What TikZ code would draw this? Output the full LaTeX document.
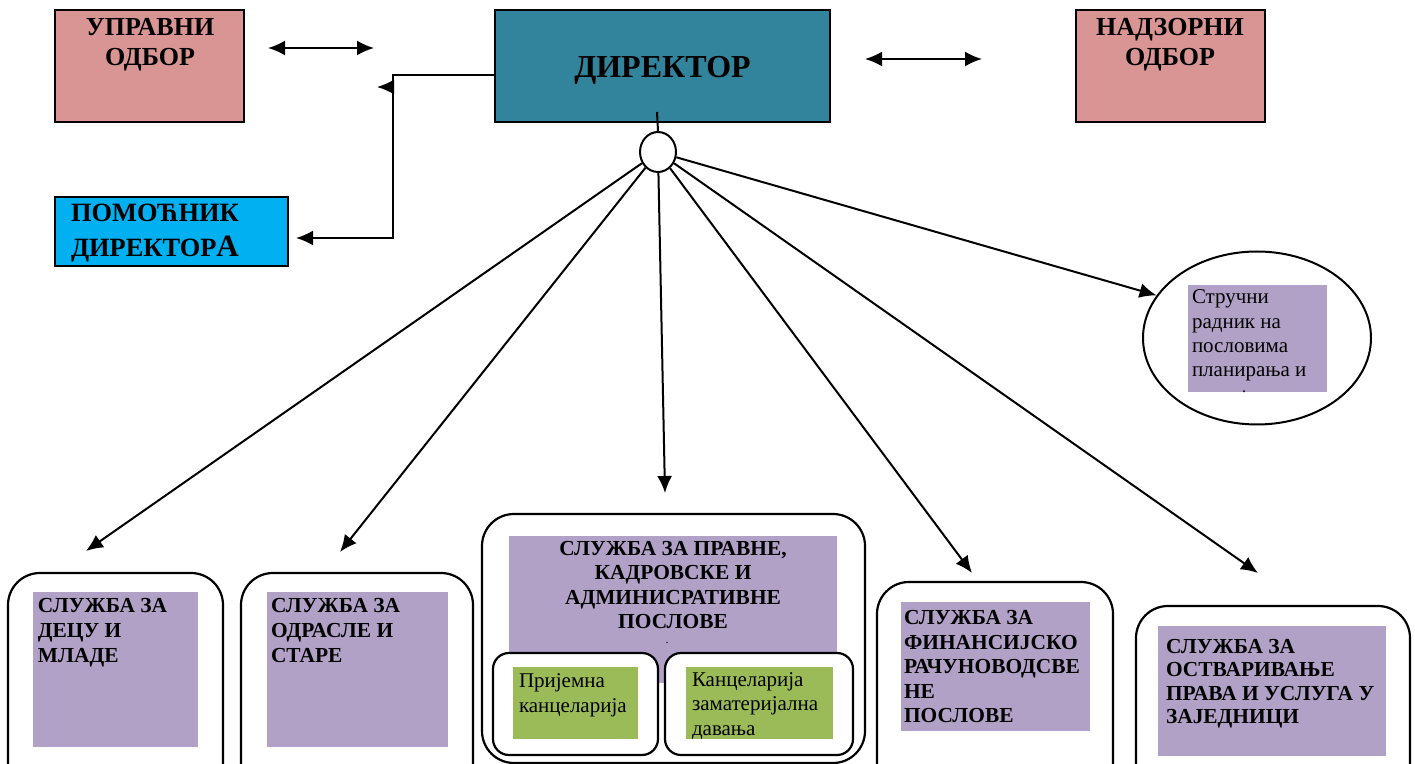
\documentclass[tikz,border=0pt]{standalone}
\usepackage{fontspec}
\setmainfont{Liberation Serif}
\usetikzlibrary{arrows.meta,shapes.geometric}
\definecolor{rosa}{HTML}{D99594}
\definecolor{petrol}{HTML}{31849B}
\definecolor{himmel}{HTML}{00B0F0}
\definecolor{lila}{HTML}{B2A1C7}
\definecolor{gruen}{HTML}{9BBB59}
\def\sz#1#2{\fontsize{#1}{#2}\selectfont}

\begin{document}
\begin{tikzpicture}[x=0.5pt,y=-0.5pt,>={Latex[length=8.5pt,width=7.5pt]},line width=1pt,
	kasten/.style={draw,line width=1.3pt,inner sep=0pt},
	dienst/.style={draw,fill=white,line width=1.1pt,rounded corners=16pt,inner sep=0pt},
	klein/.style={draw,fill=white,line width=1.1pt,rounded corners=8pt,inner sep=0pt},
	feld/.style={inner sep=0pt},
	fett/.style={font=\bfseries\sz{10.7}{12.3},align=left,inner sep=0pt,anchor=base west},
	normal/.style={font=\sz{10.5}{12.2},align=left,inner sep=0pt,anchor=base west}]
\useasboundingbox (0,0) rectangle (1415,764);
\clip (0,0) rectangle (1415,764);
% obere Reihe (Textanker = Grundlinie der letzten Zeile)
\node[kasten,fill=rosa,minimum width=94.5pt,minimum height=56pt] (uo) at (149.5,66) {};
\node[kasten,fill=petrol,minimum width=167.5pt,minimum height=56pt] (dir) at (662.5,66) {};
\node[kasten,fill=rosa,minimum width=94.5pt,minimum height=56pt] (no) at (1170.5,66) {};
\node[kasten,fill=himmel,minimum width=116.5pt,minimum height=34.5pt] (pd) at (171.5,231.5) {};
\node[font=\bfseries\sz{13}{15},align=center,inner sep=0pt,anchor=base] (uot) at (150,66) {УПРАВНИ\\ОДБОР};
\node[font=\bfseries\sz{13}{15},align=center,inner sep=0pt,anchor=base] (not) at (1170,66) {НАДЗОРНИ\\ОДБОР};
\node[font=\bfseries\sz{16}{16},inner sep=0pt,anchor=base] (dirt) at (662.5,78) {ДИРЕКТОР};
\node[font=\bfseries\sz{13.2}{17.5},align=left,inner sep=0pt,anchor=base west] (pdt) at (70,257)
	{ПОМОЋНИК\\ДИРЕКТОР{\sz{15.5}{17.5}А}};
% Knoten unter dem Direktor
\node[draw,ellipse,minimum width=18pt,minimum height=20pt,inner sep=0pt] (hub) at (658,152) {};
\coordinate (stiel) at (657,112);
\draw (stiel) -- (hub.north);
% Stručni radnik
\node[draw,ellipse,minimum width=114pt,minimum height=86.5pt] (sr) at (1257,338) {};
\node[feld,fill=lila,minimum width=69.5pt,minimum height=53.5pt] (srf) at (1257.5,338.5) {};
\node[normal] (srt) at (1191,377) {Стручни\\радник на\\пословима\\планирања и};
\node[font=\sz{8}{8},inner sep=0pt,anchor=base] (srp) at (1244,393) {.};
% Službe
\node[dienst,minimum width=107.5pt,minimum height=113.5pt] (s1) at (115.5,686.5) {};
\node[feld,fill=lila,minimum width=82.5pt,minimum height=77.5pt] (s1f) at (115.5,669.5) {};
\node[fett] (s1t) at (37,662) {СЛУЖБА ЗА\\ДЕЦУ И\\МЛАДЕ};
\node[dienst,minimum width=116pt,minimum height=113.5pt] (s2) at (357,686.5) {};
\node[feld,fill=lila,minimum width=90.5pt,minimum height=77.5pt] (s2f) at (357.5,669.5) {};
\node[fett] (s2t) at (270,662) {СЛУЖБА ЗА\\ОДРАСЛЕ И\\СТАРЕ};
\node[dienst,minimum width=191.5pt,minimum height=124.5pt] (s3) at (673.5,638.5) {};
\node[feld,fill=lila,minimum width=164pt,minimum height=73.5pt] (s3f) at (673,609.5) {};
\node[fett,align=center,anchor=base] (s3t) at (673,629)
	{СЛУЖБА ЗА ПРАВНЕ,\\КАДРОВСКЕ И\\АДМИНИСРАТИВНЕ\\ПОСЛОВЕ};
\node[font=\sz{6}{6},inner sep=0pt,anchor=base] (s3p) at (667,644) {.};
\node[klein,minimum width=82.5pt,minimum height=51pt] (ka) at (575.5,704) {};
\node[feld,fill=gruen,minimum width=62.5pt,minimum height=36pt] (kaf) at (575.5,703) {};
\node[normal,font=\sz{10.5}{12.5}] (kat) at (518,712) {Пријемна\\канцеларија};
\node[klein,minimum width=94pt,minimum height=51pt] (kb) at (759,704) {};
\node[feld,fill=gruen,minimum width=73.5pt,minimum height=36pt] (kbf) at (759.5,703) {};
\node[normal] (kbt) at (691,735) {Канцеларија\\заматеријална\\давања};
\node[dienst,minimum width=118pt,minimum height=109pt] (s4) at (995,691) {};
\node[feld,fill=lila,minimum width=94.5pt,minimum height=64.5pt] (s4f) at (995.5,666.5) {};
\node[fett] (s4t) at (903,723) {СЛУЖБА ЗА\\ФИНАНСИЈСКО\\РАЧУНОВОДСВЕ\\НЕ\\ПОСЛОВЕ};
\node[dienst,minimum width=137pt,minimum height=97pt] (s5) at (1273,703) {};
\node[feld,fill=lila,minimum width=114pt,minimum height=65pt] (s5f) at (1272,691) {};
\node[fett,font=\bfseries\sz{10.7}{11.8}] (s5t) at (1165,724) {СЛУЖБА ЗА\\ОСТВАРИВАЊЕ\\ПРАВА И УСЛУГА У\\ЗАЈЕДНИЦИ};
% Pfeile
\coordinate (a1) at (268,48);
\coordinate (a2) at (374,48);
\coordinate (b1) at (865,59);
\coordinate (b2) at (982,59);
\draw[<->] (a1) -- (a2);
\draw[<->] (b1) -- (b2);
\coordinate (e0) at (495,75);
\coordinate (e1) at (296,238);
\draw[->] (e0) -- (393,75) -- (393,238) -- (e1);
\draw[->] (393,87) -- (377,87);
\coordinate (p1) at (86,551);
\coordinate (p2) at (340,552);
\coordinate (p3) at (665,493);
\coordinate (p4) at (972,573);
\coordinate (p5) at (1258,573);
\foreach \z in {p1,p2,p3,p4,p5}
	\draw[->] (hub) -- (\z);
\draw[->] (hub) -- (sr.157);
\end{tikzpicture}
\end{document}
